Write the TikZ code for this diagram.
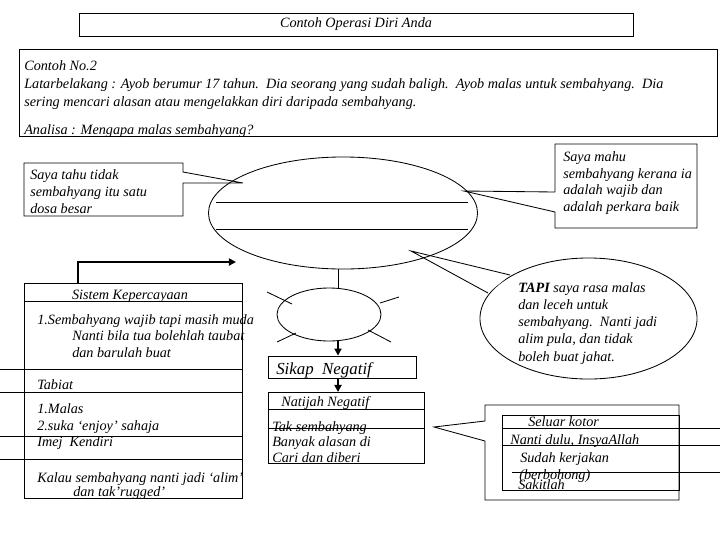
\documentclass[tikz,border=0pt]{standalone}
\usepackage{fontspec}
\setmainfont{Liberation Serif}
\usetikzlibrary{fit,shapes.geometric,arrows.meta}
\begin{document}
\begin{tikzpicture}[x=0.025cm,y=-0.025cm,
  ln/.style={line width=0.6pt},
  box/.style={draw, line width=0.6pt, inner sep=0pt},
  txt/.style={font=\fontsize{10.1}{12}\selectfont\itshape, inner sep=0pt, anchor=base west},
  bigtxt/.style={font=\fontsize{12}{14}\selectfont\itshape, inner sep=0pt, anchor=base west},
  arr/.style={line width=1.3pt, -{Triangle[length=5pt,width=5pt]}}]
\useasboundingbox (0,0) rectangle (720,540);
\fill[white] (0,0) rectangle (720,540);

% title
\node[box, fit={(79,13) (633,36)}] (title) {};
\node[txt, anchor=center] (titletxt) at (title.center) {Contoh Operasi Diri Anda};

% intro box
\node[box, fit={(19,49) (717,136)}] (intro) {};
\node[txt] (t1) at (24,70) {Contoh No.2};
\node[txt] (t2) at (24,88) {Latarbelakang : Ayob berumur 17 tahun.\ \ Dia seorang yang sudah baligh.\ \ Ayob malas untuk sembahyang.\ \ Dia};
\node[txt] (t3) at (24,106) {sering mencari alasan atau mengelakkan diri daripada sembahyang.};
\node[txt] (t4) at (24,134) {Analisa : Mengapa malas sembahyang?};

% left callout
\coordinate (lctip) at (243,183);
\draw[ln] (lctip) -- (183,172) -- (183,163) -- (24,163) -- (24,216) -- (183,216) -- (183,183) -- cycle;
\node[txt] (l1) at (30,179) {Saya tahu tidak};
\node[txt] (l2) at (30,196) {sembahyang itu satu};
\node[txt] (l3) at (30,213) {dosa besar};

% right callout
\coordinate (rctip) at (464,191);
\draw[ln] (rctip) -- (555,192) -- (555,144) -- (697,144) -- (697,228) -- (555,228) -- (555,212) -- cycle;
\node[txt] (r1) at (563,161) {Saya mahu};
\node[txt] (r2) at (563,178) {sembahyang kerana ia};
\node[txt] (r3) at (563,194) {adalah wajib dan};
\node[txt] (r4) at (563,211) {adalah perkara baik};

% TAPI ellipse callout
\node[box, ellipse, minimum width=5.425cm, minimum height=3.025cm] (tapi) at (588.5,318.5) {};
\coordinate (tptip) at (411,251);
\fill[white] (tptip) -- (510,275) -- (488,293) -- cycle;
\draw[ln] (510,275) -- (tptip) -- (488,293);
\node[txt] (p1) at (518,292) {\textbf{TAPI} saya rasa malas};
\node[txt] (p2) at (518,309) {dan leceh untuk};
\node[txt] (p3) at (518,326) {sembahyang.\ \ Nanti jadi};
\node[txt] (p4) at (518,343) {alim pula, dan tidak};
\node[txt] (p5) at (518,361) {boleh buat jahat.};

% big ellipse
\node[box, ellipse, minimum width=6.725cm, minimum height=2.8cm] (big) at (343,213) {};
\draw[ln] (216,202) -- (468,202);
\draw[ln] (216,229) -- (468,229);

% small ellipse with rays
\node[box, ellipse, minimum width=2.6cm, minimum height=1.325cm] (small) at (329,314.5) {};
\draw[ln] (267,292) -- (292,304);
\draw[ln] (380,303) -- (399,297);
\draw[ln] (277,342) -- (296,333);
\draw[ln] (368,330) -- (391,342);
\coordinate (bigbot) at (338,269);
\coordinate (smalltop) at (338,288);
\draw[ln] (bigbot) -- (smalltop);

% Sikap Negatif
\node[box, fit={(268,356) (416,378)}] (sikap) {};
\node[bigtxt] (sikaptxt) at (276,374) {Sikap\ \ Negatif};
\coordinate (smallbot) at (338,341);
\draw[arr] (smallbot) -- (smallbot |- sikap.north);

% Natijah Negatif
\node[box, fit={(268,392) (424,463)}] (natijah) {};
\draw[arr] (338,378) -- (338,392);
\draw[ln] (268,409) -- (424,409);
\draw[ln] (268,428) -- (424,428);
\node[txt] (n1) at (281,406) {Natijah Negatif};
\node[txt] (n2) at (272,431) {Tak sembahyang};
\node[txt] (n3) at (272,446) {Banyak alasan di};
\node[txt] (n4) at (272,462) {Cari dan diberi};

% bottom right callout
\coordinate (brtip) at (434,427);
\draw[ln] (brtip) -- (485,421) -- (485,405) -- (679,405) -- (679,500) -- (485,500) -- (485,441) -- cycle;
\node[box, fit={(502,415) (679,490)}] (inner) {};
\draw[ln] (502,428) -- (720,428);
\draw[ln] (502,445) -- (720,445);
\draw[ln] (512,472) -- (720,472);
\node[txt] (b1) at (528,426) {Seluar kotor};
\node[txt] (b2) at (510,444) {Nanti dulu, InsyaAllah};
\node[txt] (b3) at (520,462) {Sudah kerjakan};
\node[txt] (b4) at (519,479) {(berbohong)};
\node[txt] (b5) at (518,489) {Sakitlah};

% Sistem Kepercayaan block
\node[box, fit={(24,283) (242,498)}] (sistem) {};
\coordinate (sk) at (78,283);
\coordinate (skend) at (236,262);
\draw[arr] (sk) |- (skend);
\draw[ln] (24,301) -- (242,301);
\draw[ln] (0,369) -- (242,369);
\draw[ln] (0,392) -- (242,392);
\draw[ln] (0,436) -- (242,436);
\draw[ln] (0,459) -- (242,459);
\node[txt, anchor=base] (s0) at (130,299) {Sistem Kepercayaan};
\node[txt] (s1) at (37,324) {1.Sembahyang wajib tapi masih muda};
\node[txt] (s2) at (72,340) {Nanti bila tua bolehlah taubat};
\node[txt] (s3) at (72,357) {dan barulah buat};
\node[txt] (s4) at (37,389) {Tabiat};
\node[txt] (s5) at (37,413) {1.Malas};
\node[txt] (s6) at (37,430) {2.suka `enjoy' sahaja};
\node[txt] (s7) at (37,446) {Imej\ \ Kendiri};
\node[txt] (s8) at (37,482) {Kalau sembahyang nanti jadi `alim'};
\node[txt] (s9) at (73,496) {dan tak'rugged'};
\end{tikzpicture}
\end{document}
